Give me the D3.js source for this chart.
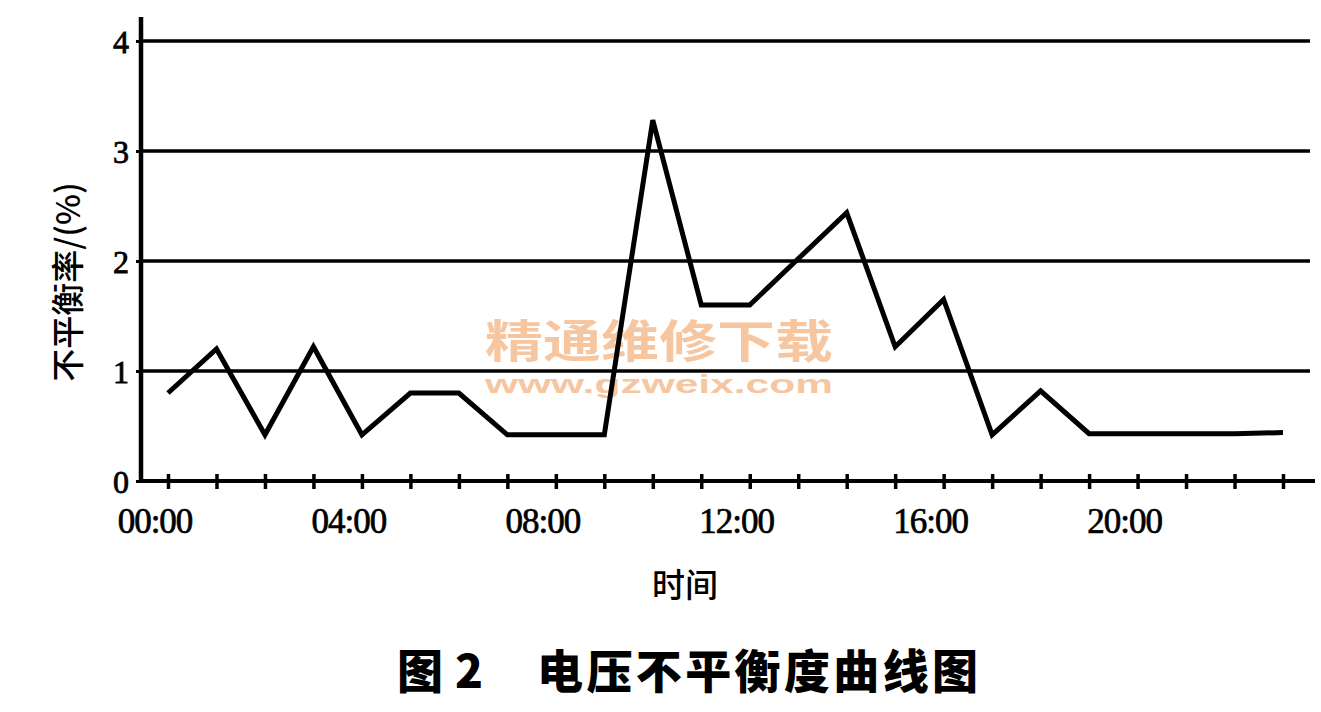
<!DOCTYPE html>
<html>
<head>
<meta charset="utf-8">
<script src="https://cdn.jsdelivr.net/npm/d3@7"></script>
<style>
  html, body { margin: 0; padding: 0; background: #fff; }
  svg { display: block; }
</style>
</head>
<body>
<svg id="chart" width="1321" height="712"></svg>
<script>
// ---- data ----
const hours = d3.range(0, 24);
const values = [0.80, 1.20, 0.42, 1.22, 0.42, 0.80, 0.80, 0.42, 0.42, 0.42,
                3.28, 1.60, 1.60, 2.02, 2.44, 1.22, 1.65, 0.42, 0.82, 0.43,
                0.43, 0.43, 0.43, 0.44];
const xLabelHours = [0, 4, 8, 12, 16, 20];
const xLabels = ["00:00", "04:00", "08:00", "12:00", "16:00", "20:00"];
const yTicks = [0, 1, 2, 3, 4];
const yTitle = "不平衡率/(%)";
const xTitle = "时间";
const figNo = "图 2";
const figTitle = "电压不平衡度曲线图";
const watermark1 = "精通维修下载";
const watermark2 = "www.gzweix.com";

// ---- layout ----
const svg = d3.select("#chart");
const x = d3.scaleLinear().domain([0, 23]).range([168, 1283]);
const y = d3.scaleLinear().domain([0, 4]).range([481, 41]);
const axisLeftX = 141, axisRightX = 1315, gridRightX = 1310;
const serif = "'Liberation Serif', 'Times New Roman', serif";
const cjk = "'Noto Sans CJK SC', sans-serif";

// watermark (behind everything)
svg.append("text").attr("x", 659).attr("y", 358)
  .attr("text-anchor", "middle").attr("font-family", cjk).attr("font-weight", 700)
  .attr("font-size", 45).attr("fill", "#f6c6a0")
  .attr("textLength", 348).attr("lengthAdjust", "spacingAndGlyphs")
  .text(watermark1);
svg.append("text").attr("x", 659).attr("y", 393)
  .attr("text-anchor", "middle").attr("font-family", "'Liberation Sans', Arial, sans-serif").attr("font-weight", 700)
  .attr("font-size", 25).attr("fill", "#f6c6a0")
  .attr("textLength", 348).attr("lengthAdjust", "spacingAndGlyphs")
  .text(watermark2);

// gridlines
svg.append("g").selectAll("line").data(yTicks.filter(d => d > 0)).join("line")
  .attr("x1", axisLeftX).attr("x2", gridRightX)
  .attr("y1", d => y(d)).attr("y2", d => y(d))
  .attr("stroke", "#000").attr("stroke-width", 3.5);

// y axis
const yAxis = d3.axisLeft(y).tickValues(yTicks).tickSize(5).tickPadding(8).tickFormat(d3.format("d"));
const gy = svg.append("g").attr("transform", `translate(${axisLeftX},0)`).call(yAxis);
gy.select(".domain").remove();
gy.selectAll(".tick line").attr("stroke", "#000").attr("stroke-width", 3);
gy.selectAll(".tick text").attr("font-family", serif).attr("font-size", 32)
  .attr("fill", "#000").attr("stroke", "#000").attr("stroke-width", 0.8)
  .attr("dy", "0.35em").attr("x", -12);
svg.append("line").attr("x1", axisLeftX).attr("x2", axisLeftX).attr("y1", 17).attr("y2", 483)
  .attr("stroke", "#000").attr("stroke-width", 4.5);

// x axis
svg.append("line").attr("x1", axisLeftX).attr("x2", axisRightX).attr("y1", y(0)).attr("y2", y(0))
  .attr("stroke", "#000").attr("stroke-width", 4);
const xAxis = d3.axisBottom(x).tickValues(hours).tickSize(8).tickFormat("");
const gx = svg.append("g").attr("transform", `translate(0,${y(0)})`).call(xAxis);
gx.select(".domain").remove();
gx.selectAll(".tick line").attr("y1", -7).attr("y2", 8).attr("stroke", "#000").attr("stroke-width", 3.5);

svg.append("g").selectAll("text").data(xLabelHours).join("text")
  .attr("x", d => x(d) - 13).attr("y", 533)
  .attr("text-anchor", "middle").attr("font-family", serif).attr("font-size", 35)
  .attr("letter-spacing", -1).attr("fill", "#000").attr("stroke", "#000").attr("stroke-width", 0.7)
  .text((d, i) => xLabels[i]);

// data line
const line = d3.line().x((d, i) => x(hours[i])).y(d => y(d));
svg.append("path").datum(values).attr("d", line)
  .attr("fill", "none").attr("stroke", "#000").attr("stroke-width", 5)
  .attr("stroke-linejoin", "miter");

// axis titles
svg.append("text").attr("transform", "translate(80,282) rotate(-90)")
  .attr("text-anchor", "middle").attr("font-family", cjk).attr("font-weight", 500)
  .attr("font-size", 33).attr("fill", "#000")
  .text(yTitle);
svg.append("text").attr("x", 685).attr("y", 597)
  .attr("text-anchor", "middle").attr("font-family", cjk).attr("font-weight", 500)
  .attr("font-size", 33).attr("fill", "#000")
  .text(xTitle);

// figure caption
svg.append("text").attr("x", 397).attr("y", 688)
  .attr("font-family", cjk).attr("font-weight", 900)
  .attr("font-size", 46).attr("fill", "#000")
  .attr("textLength", 86).attr("lengthAdjust", "spacing")
  .text(figNo);
svg.append("text").attr("x", 537).attr("y", 688)
  .attr("font-family", cjk).attr("font-weight", 900)
  .attr("font-size", 46).attr("fill", "#000")
  .attr("textLength", 441).attr("lengthAdjust", "spacing")
  .text(figTitle);
</script>
</body>
</html>
